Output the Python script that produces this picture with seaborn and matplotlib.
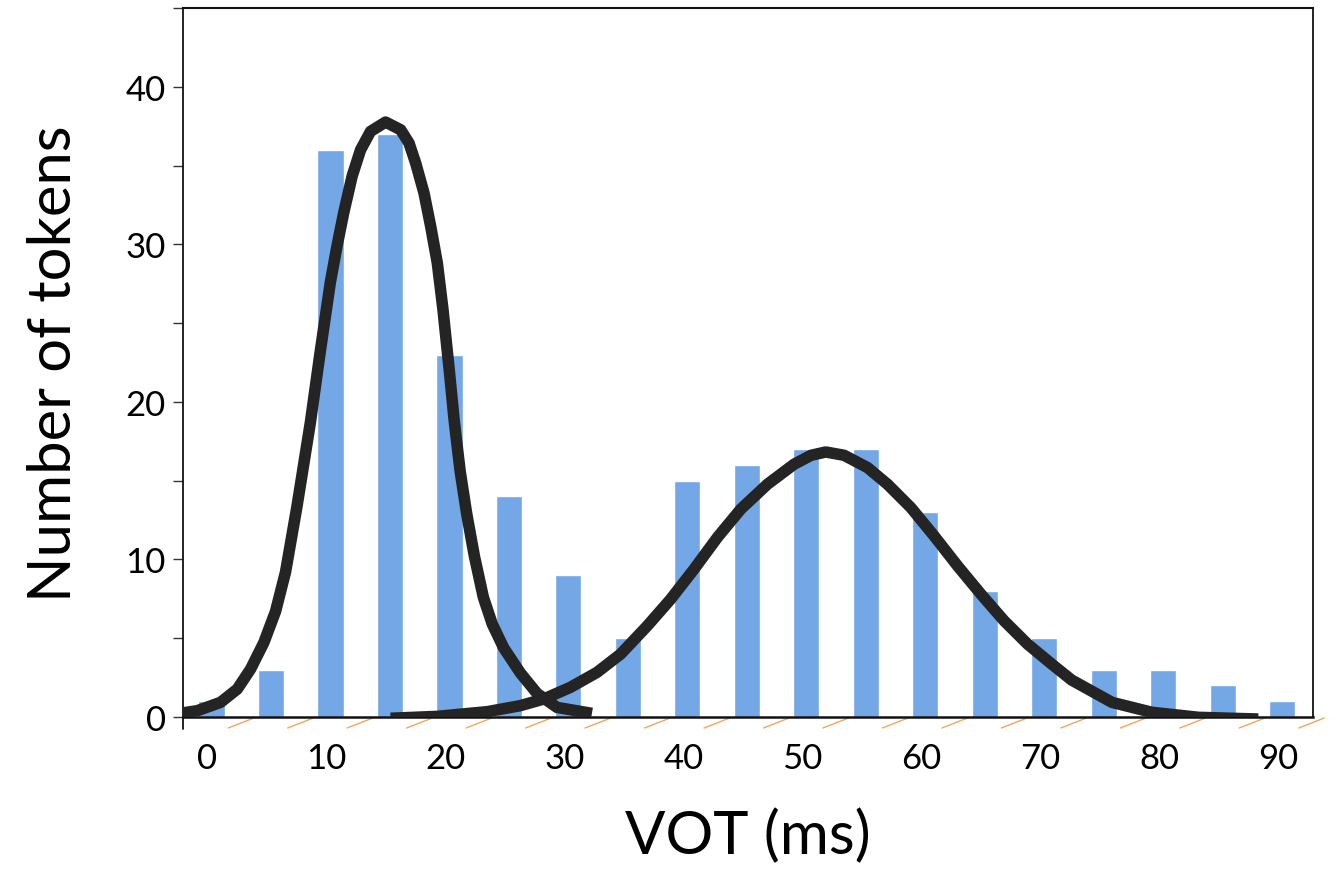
import numpy as np
import pandas as pd
import matplotlib
matplotlib.use("Agg")
import matplotlib.pyplot as plt
import seaborn as sns
from matplotlib.transforms import ScaledTranslation

# ---- data ----
vot_bins = [0, 5, 10, 15, 20, 25, 30, 35, 40, 45, 50, 55, 60, 65, 70, 75, 80, 85, 90]
token_counts = [1, 3, 36, 37, 23, 14, 9, 5, 15, 16, 17, 17, 13, 8, 5, 3, 3, 2, 1]

curve1_x = [-3.03, -1.2, 0.76, 2.16, 3.28, 4.4, 5.38, 6.22, 7.19, 8.31, 9.14, 9.99,
            10.55, 11.11, 11.82, 12.53, 13.37, 14.63, 15.9, 16.6, 17.16, 17.86,
            18.42, 18.98, 19.45, 20.0, 20.4, 20.9, 21.45, 22.1, 22.85, 23.6, 24.55,
            25.96, 27.36, 29.04, 31.98]
curve1_y = [0.19, 0.4, 0.93, 1.77, 3.04, 4.73, 6.7, 9.2, 13.4, 18.7, 23.2, 27.6,
            29.9, 32.0, 34.33, 36.0, 37.17, 37.76, 37.27, 36.43, 35.16, 33.26,
            31.15, 28.82, 25.9, 21.9, 18.8, 15.6, 12.9, 10.2, 7.6, 5.9, 4.4,
            2.8, 1.5, 0.61, 0.23]

curve2_x = [15.05, 18.98, 23.2, 25.96, 27.92, 30.16, 32.4, 34.4, 36.64, 38.6, 40.56,
            42.53, 44.49, 46.73, 48.97, 50.4, 51.64, 53.18, 55.15, 56.83, 58.79,
            60.75, 62.72, 64.68, 66.64, 68.6, 70.57, 72.3, 75.7, 79.05, 82.97, 88.0]
curve2_y = [-0.08, 0.04, 0.34, 0.72, 1.14, 1.88, 2.83, 4.0, 5.79, 7.48, 9.38,
            11.4, 13.19, 14.77, 16.04, 16.61, 16.82, 16.61, 15.83, 14.77, 13.29,
            11.49, 9.59, 7.8, 6.1, 4.63, 3.4, 2.35, 0.93, 0.3, -0.02, -0.13]

major_yticks = [0, 10, 20, 30, 40]
minor_yticks = [5, 15, 25, 35, 45]
xtick_labels = ["0", "10", "20", "30", "40", "50", "60", "70", "80", "90"]
xtick_pos = [0, 10, 20, 30, 40, 50, 60, 70, 80, 90]

sns.set_theme(style="white")
plt.rcParams["font.family"] = ["Lato", "DejaVu Sans"]
plt.rcParams["text.color"] = "black"
plt.rcParams["axes.labelcolor"] = "black"
plt.rcParams["xtick.color"] = "black"
plt.rcParams["ytick.color"] = "black"

fig = plt.figure(figsize=(13.36, 8.70), dpi=100)
ax = fig.add_axes([183 / 1336, 1 - 718 / 870, (1313 - 183) / 1336, (718 - 9) / 870])

df = pd.DataFrame({"vot": vot_bins, "count": token_counts})
sns.barplot(data=df, x="vot", y="count", native_scale=True, width=0.44,
            color="#74A7E6", saturation=1, ax=ax, zorder=2)

for cx, cy in [(curve1_x, curve1_y), (curve2_x, curve2_y)]:
    ax.plot(cx, cy, color="#242424", lw=8.3, zorder=4,
            solid_capstyle="butt", solid_joinstyle="round")

ax.set_xlim(-2.4, 92.6)
ax.set_ylim(0, 45)

ax.set_xticks(xtick_pos)
ax.set_xticklabels(xtick_labels, fontsize=25)
ax.tick_params(axis="x", length=0, pad=18)
shift = ScaledTranslation(-4 / 100, 0, fig.dpi_scale_trans)
for lab in ax.get_xticklabels():
    lab.set_transform(lab.get_transform() + shift)

ax.set_yticks(major_yticks)
ax.set_yticks(minor_yticks, minor=True)
ax.set_yticklabels([str(v) for v in major_yticks], fontsize=25)
ax.tick_params(axis="y", which="both", direction="out", length=7.5, width=1.0,
               color="#333333", left=True, pad=5)

for side in ["top", "bottom", "left", "right"]:
    ax.spines[side].set_visible(True)
    ax.spines[side].set_color("#111111")
ax.spines["bottom"].set_linewidth(1.8)
ax.spines["top"].set_linewidth(1.5)
ax.spines["right"].set_linewidth(1.3)
ax.spines["left"].set_linewidth(1.3)

# orange slanted separators at bin boundaries
ah = 709.0
for v in vot_bins:
    b = v + 2.5
    ax.plot([b - 1.1, b + 1.05], [-11 / ah, -1 / ah], transform=ax.get_xaxis_transform(),
            color="#F5A55A", linewidth=1.0, clip_on=False, zorder=1)
# left axis extension below the baseline
ax.plot([-2.4, -2.4], [0, -12 / ah], transform=ax.get_xaxis_transform(),
        color="#111111", linewidth=1.3, clip_on=False)

ax.set_xlabel("VOT (ms)", fontsize=43, labelpad=24)
ax.set_ylabel("Number of tokens", fontsize=43, labelpad=32)
ax.grid(False)

fig.savefig("out.png", dpi=100)
